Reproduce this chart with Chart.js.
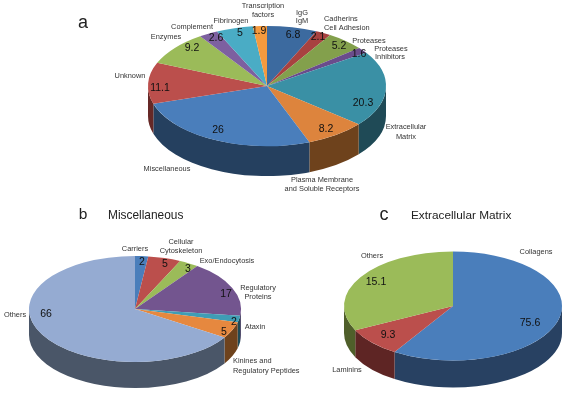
<!DOCTYPE html>
<html>
<head>
<meta charset="utf-8">
<title>Pies</title>
<script src="https://cdn.jsdelivr.net/npm/chart.js@4/dist/chart.umd.js"></script>
<style>
    html, body { margin: 0; padding: 0; background: #fff; }
    #wrap { position: relative; width: 567px; height: 393px; overflow: hidden; }
    canvas { position: absolute; left: 0; top: 0; }
</style>
</head>
<body>
<div id="wrap">
    <canvas id="pieA" width="567" height="393"></canvas>
    <canvas id="pieB" width="567" height="393"></canvas>
    <canvas id="pieC" width="567" height="393"></canvas>
</div>
<script>
// Panel a
const aValues = [6.8, 2.1, 5.2, 1.6, 20.3, 8.2, 26, 11.1, 9.2, 2.6, 5, 1.9];
const aPrinted = ['6.8', '2.1', '5.2', '1.6', '20.3', '8.2', '26', '11.1', '9.2', '2.6', '5', '1.9'];
const aColors = ['#3c6a9f', '#a84240', '#83a04c', '#6a4c8c', '#3a90a5', '#dd843d', '#4a7ebb', '#bb4f4c', '#9bbb59', '#7d60a0', '#4aacc5', '#f59a3e'];
const aWalls = ['#25405f', '#662826', '#4f5f2a', '#40305a', '#1f4a56', '#6e421c', '#25405f', '#662826', '#4f5f2a', '#40305a', '#1f4a56', '#6e421c'];

// Panel b
const bValues = [2, 5, 3, 17, 2, 5, 66];
const bPrinted = ['2', '5', '3', '17', '2', '5', '66'];
const bColors = ['#4a7ebb', '#bb4f4c', '#9bbb59', '#73558f', '#3f9db5', '#e6883f', '#95abd2'];
const bWalls = ['#2a4466', '#662826', '#4f5f2a', '#40305a', '#1f4a56', '#6e421c', '#4a5668'];

// Panel c: the wedges in the picture are not drawn to the printed percentages,
// so the wedge sizes are read off the drawing and the numbers are kept apart.
const cShares = [59, 8.7, 32.3];
const cPrinted = ['75.6', '9.3', '15.1'];
const cColors = ['#4a7ebb', '#bb4f4c', '#9bbb59'];
const cWalls = ['#284162', '#5e2524', '#4f5f2a'];

const SANS = "'Liberation Sans', Arial, sans-serif";

function text(ctx, str, x, y, font, color, align) {
    ctx.font = font;
    ctx.fillStyle = color;
    ctx.textAlign = align || 'center';
    ctx.textBaseline = 'middle';
    ctx.fillText(str, x, y);
}

// Pie do Chart.js achatado em elipse, com a parede lateral desenhada antes das fatias.
const tiltPlugin = {
    id: 'tilt',
    beforeDatasetsDraw(chart, args, opts) {
        const { ctx } = chart;
        const arcs = chart.getDatasetMeta(0).data;
        const r = arcs[0].outerRadius;
        const ry = r * opts.squash;
        ctx.save();
        arcs.forEach((arc, i) => {
            const a0 = Math.max(arc.startAngle, 0);
            const a1 = Math.min(arc.endAngle, Math.PI);
            if (a1 <= a0) return;
            ctx.beginPath();
            ctx.ellipse(arc.x, opts.cy, r, ry, 0, a0, a1);
            ctx.ellipse(arc.x, opts.cy + opts.depth, r, ry, 0, a1, a0, true);
            ctx.closePath();
            ctx.fillStyle = opts.walls[i];
            ctx.fill();
        });
        ctx.restore();
        ctx.save();
        ctx.translate(arcs[0].x, opts.cy);
        ctx.scale(1, opts.squash);
        ctx.translate(-arcs[0].x, -arcs[0].y);
    },
    afterDatasetsDraw(chart, args, opts) {
        const { ctx } = chart;
        ctx.restore();
        opts.printed.forEach((str, i) => {
            const [x, y] = opts.valueSpots[i];
            text(ctx, str, x, y, '10.5px ' + SANS, '#111');
        });
        opts.names.forEach(([str, x, y, align]) => {
            text(ctx, str, x, y, '7.4px ' + SANS, '#333', align);
        });
        opts.titles.forEach(([str, x, y, size, align]) => {
            text(ctx, str, x, y, size + 'px ' + SANS, '#222', align);
        });
    },
};

function tiltedPie(id, values, colors, tilt) {
    const W = 567, H = 393;
    const { cx, rx, squash } = tilt;
    return new Chart(document.getElementById(id), {
        type: 'pie',
        data: {
            labels: values.map((v, i) => String(i)),
            datasets: [{ data: values, backgroundColor: colors, borderWidth: 0 }],
        },
        options: {
            responsive: false,
            animation: false,
            events: [],
            layout: {
                padding: { left: cx - rx, right: W - cx - rx, top: (H - 2 * rx) / 2, bottom: (H - 2 * rx) / 2 },
            },
            plugins: { legend: { display: false }, tooltip: { enabled: false }, tilt },
        },
        plugins: [tiltPlugin],
    });
}

tiltedPie('pieA', aValues, aColors, {
    cx: 267, cy: 86, rx: 119, squash: 0.505, depth: 30, walls: aWalls, printed: aPrinted,
    valueSpots: [[293, 35], [318, 37], [339, 46], [359, 54], [363, 103], [326, 129], [218, 130], [160, 88], [192, 48], [216, 38], [240, 33], [259, 31]],
    names: [
        ['Transcription', 263, 6], ['factors', 263, 15],
        ['IgG', 302, 13], ['IgM', 302, 21],
        ['Cadherins', 324, 19, 'left'], ['Cell Adhesion', 324, 28, 'left'],
        ['Proteases', 369, 41],
        ['Proteases', 391, 49], ['Inhibitors', 390, 57],
        ['Extracellular', 406, 127], ['Matrix', 406, 137],
        ['Plasma Membrane', 322, 180], ['and Soluble Receptors', 322, 189],
        ['Miscellaneous', 167, 169],
        ['Unknown', 130, 76],
        ['Enzymes', 166, 37],
        ['Complement', 192, 27],
        ['Fibrinogen', 231, 21],
    ],
    titles: [['a', 83, 23, 18]],
});

tiltedPie('pieB', bValues, bColors, {
    cx: 135, cy: 309, rx: 106, squash: 0.5, depth: 26, walls: bWalls, printed: bPrinted,
    valueSpots: [[142, 262], [165, 264], [188, 269], [226, 294], [234, 322], [224, 332], [46, 314]],
    names: [
        ['Carriers', 135, 249],
        ['Cellular', 181, 242], ['Cytoskeleton', 181, 251],
        ['Exo/Endocytosis', 227, 261],
        ['Regulatory', 258, 288], ['Proteins', 258, 297],
        ['Ataxin', 255, 327],
        ['Kinines and', 233, 361, 'left'], ['Regulatory Peptides', 233, 371, 'left'],
        ['Others', 15, 315],
    ],
    titles: [['b', 83, 215, 15.5], ['Miscellaneous', 108, 216, 11.9, 'left']],
});

tiltedPie('pieC', cShares, cColors, {
    cx: 453, cy: 306, rx: 109, squash: 0.5, depth: 27, walls: cWalls, printed: cPrinted,
    valueSpots: [[530, 323], [388, 335], [376, 282]],
    names: [['Collagens', 536, 252], ['Laminins', 347, 370], ['Others', 372, 256]],
    titles: [['c', 384, 215, 18], ['Extracellular Matrix', 411, 216, 11.8, 'left']],
});
</script>
</body>
</html>
